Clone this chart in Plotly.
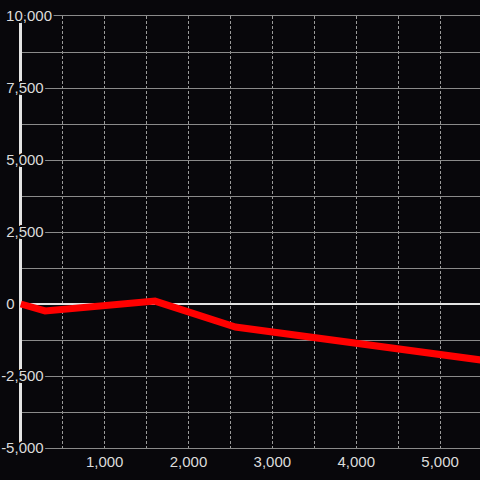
import plotly.graph_objects as go

# ---- data ----
X_VALUES = [0, 290, 1600, 2560, 5500]
Y_VALUES = [0, -240, 100, -800, -1950]

X_TICKS = [1000, 2000, 3000, 4000, 5000]
X_LABELS = ["1,000", "2,000", "3,000", "4,000", "5,000"]

Y_TICKS = [10000, 7500, 5000, 2500, 0, -2500, -5000]
Y_LABELS = ["10,000", "7,500", "5,000", "2,500", "0", "-2,500", "-5,000"]

BG = "#08070b"
TEXT = "#dcdcdc"
GRID = "#8a8a8a"
DGRID = "#9a9a9a"
ZERO = "#e4e4e4"
FONT = "Liberation Sans, Arial, sans-serif"

def _units(s):
    s = s.lstrip("-")
    return sum(2 if c.isdigit() else 1 for c in s)

_w = max(_units(s) for s in Y_LABELS)
Y_TEXT = [s + "\u00a0" * (_w - _units(s)) for s in Y_LABELS]

offs = [(-2, 0), (2, 0), (0, -2), (0, 2), (-1.5, -1.5), (1.5, 1.5),
        (-1.5, 1.5), (1.5, -1.5), (-1, 0), (1, 0), (0, 1), (0, -1)]
SHADOW = ", ".join(f"{dx}px {dy}px 0 {BG}" for dx, dy in offs)

fig = go.Figure()
fig.add_trace(go.Scatter(
    x=X_VALUES, y=Y_VALUES, mode="lines",
    line=dict(color="#ff0000", width=7),
    hoverinfo="skip", showlegend=False,
))

fig.update_layout(
    width=480, height=480,
    template="none",
    paper_bgcolor=BG, plot_bgcolor=BG,
    margin=dict(l=19, r=0, t=16, b=32, pad=0),
    showlegend=False,
    font=dict(family=FONT, size=15, color=TEXT),
    xaxis=dict(
        range=[-21.5, 5476],
        tickvals=X_TICKS, ticktext=X_LABELS,
        ticks="",
        showline=True, mirror=True, linecolor=GRID, linewidth=1,
        showgrid=True, gridcolor=DGRID, gridwidth=1, griddash="3px,2px",
        minor=dict(dtick=500, tick0=0, showgrid=True, gridcolor=DGRID,
                   gridwidth=1, griddash="3px,2px", ticks=""),
        zeroline=True, zerolinecolor=ZERO, zerolinewidth=3,
        tickfont=dict(family=FONT, size=15, color=TEXT),
        fixedrange=True,
    ),
    yaxis=dict(
        range=[-5000, 10000],
        tickvals=Y_TICKS, ticktext=Y_TEXT,
        ticks="", showline=False,
        showgrid=True, gridcolor=GRID, gridwidth=1,
        minor=dict(dtick=1250, tick0=0, showgrid=True, gridcolor=GRID,
                   gridwidth=1, ticks=""),
        zeroline=True, zerolinecolor=ZERO, zerolinewidth=2.5,
        ticklabelposition="outside",
        ticklabelstandoff=-34,
        tickfont=dict(family=FONT, size=15, color=TEXT, shadow=SHADOW),
        fixedrange=True,
    ),
)

fig.write_html(
    "out.html",
    config={"displayModeBar": False, "staticPlot": True},
    post_script="document.body.style.margin='0';document.body.style.background='" + BG + "';",
)
